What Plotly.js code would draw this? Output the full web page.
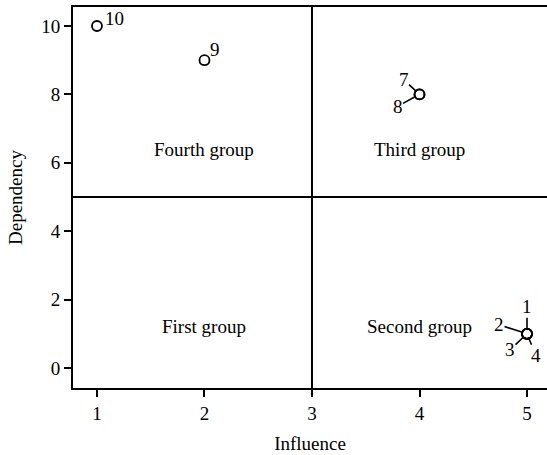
<!DOCTYPE html>
<html>
<head>
<meta charset="utf-8">
<script src="https://cdn.plot.ly/plotly-3.0.1.min.js"></script>
<style>html,body{margin:0;padding:0;background:#fff;}#chart{width:547px;height:455px;}</style>
</head>
<body>
<div id="chart"></div>
<script>
// Data
var influence = [5, 5, 5, 5, 4, 4, 2, 1];
var dependency = [1, 1, 1, 1, 8, 8, 9, 10];
var factorIds = ['1', '2', '3', '4', '7', '8', '9', '10'];
var groupNames = ['Fourth group', 'Third group', 'First group', 'Second group'];
var groupX = [2, 4, 2, 4];
var groupY = [6.4, 6.4, 1.2, 1.2];
var xTicks = [1, 2, 3, 4, 5];
var yTicks = [0, 2, 4, 6, 8, 10];
var splitX = 3, splitY = 5;

// label offsets (pixels) for each factor label
var labelAx = [0, -28, -17, 9, -16, -22, 11, 18];
var labelAy = [-27, -9, 16, 22, -15, 12, -11, -8];
var labelLeader = [true, true, true, true, true, true, false, false];

var font = {family: 'Liberation Serif', size: 19, color: '#000'};

var trace = {
  x: influence, y: dependency, mode: 'markers', type: 'scatter',
  marker: {symbol: 'circle-open', size: 10, color: '#000', line: {width: 1.8, color: '#000'}},
  hoverinfo: 'skip', showlegend: false
};

var annotations = [];
for (var i = 0; i < factorIds.length; i++) {
  if (labelLeader[i]) {
    annotations.push({x: influence[i], y: dependency[i], xref: 'x', yref: 'y', text: factorIds[i],
      showarrow: true, arrowhead: 0, arrowwidth: 1.6, arrowcolor: '#000', ax: labelAx[i], ay: labelAy[i],
      standoff: 4, borderpad: 0, font: font});
  } else {
    annotations.push({x: influence[i], y: dependency[i], xref: 'x', yref: 'y', text: factorIds[i],
      showarrow: false, xshift: labelAx[i], yshift: -labelAy[i], font: font});
  }
}
for (var g = 0; g < groupNames.length; g++) {
  annotations.push({x: groupX[g], y: groupY[g], xref: 'x', yref: 'y', text: groupNames[g], showarrow: false, font: font});
}

var layout = {
  width: 547, height: 455,
  margin: {l: 73, r: 0, t: 7, b: 67},
  paper_bgcolor: '#fff', plot_bgcolor: '#fff',
  font: font,
  xaxis: {range: [0.777, 5.186], tickvals: xTicks, ticktext: xTicks.map(String), showgrid: false, zeroline: false,
    showline: true, linewidth: 2, linecolor: '#000', mirror: true, ticks: 'outside', ticklen: 7, tickwidth: 2, tickcolor: '#000',
    title: {text: 'Influence', font: font, standoff: 14}, tickfont: font},
  yaxis: {range: [-0.585, 10.556], tickvals: yTicks, ticktext: yTicks.map(String), showgrid: false, zeroline: false,
    showline: true, linewidth: 2, linecolor: '#000', ticks: 'outside', ticklen: 7, tickwidth: 2, tickcolor: '#000',
    title: {text: 'Dependency', font: font, standoff: 14}, tickfont: font},
  shapes: [
    {type: 'line', xref: 'x', yref: 'paper', x0: splitX, x1: splitX, y0: 0, y1: 1, line: {color: '#000', width: 2}},
    {type: 'line', xref: 'paper', yref: 'y', x0: 0, x1: 1, y0: splitY, y1: splitY, line: {color: '#000', width: 2}}
  ],
  annotations: annotations
};

Plotly.newPlot('chart', [trace], layout, {displayModeBar: false, staticPlot: true});
</script>
</body>
</html>
